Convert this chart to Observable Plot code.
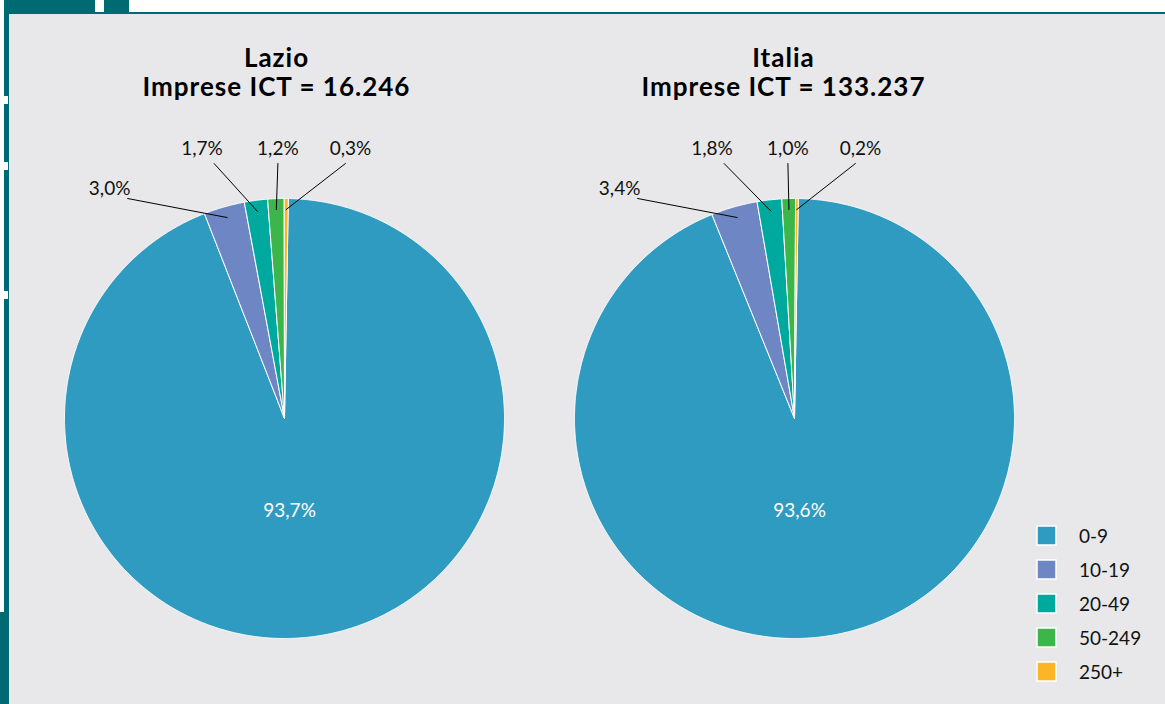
<!DOCTYPE html>
<html>
<head>
<meta charset="utf-8">
<script src="https://cdn.jsdelivr.net/npm/d3@7"></script>
<script src="https://cdn.jsdelivr.net/npm/@observablehq/plot@0.6"></script>
<style>
html, body { margin: 0; padding: 0; background: #ffffff; width: 1165px; height: 704px; overflow: hidden; }
#stage { position: relative; width: 1165px; height: 704px; font-family: Lato, "DejaVu Sans", sans-serif; }
.teal { position: absolute; background: #006A73; }
.notch { position: absolute; background: #ffffff; }
#panel { position: absolute; left: 9px; top: 14px; right: 0; bottom: 0; background: #E8E8EA; }
#chart { position: absolute; left: 0; top: 0; }
#chart svg > g[aria-label="text"]:last-of-type text { letter-spacing: 1px; }
#legend { position: absolute; left: 1037px; top: 518px; }
#legend .lg-swatches { font-family: Lato, sans-serif; font-size: 19px; color: #111; margin: 0; }
#legend .lg-swatch { height: 34px; padding-bottom: 0; }
#legend .lg-swatch > svg { margin-right: 23px; }
#legend .lg-swatch rect { stroke: #ffffff; stroke-width: 1.5; }
</style>
</head>
<body>
<div id="stage">
  <div class="teal" style="left:4px;top:0;width:91px;height:12px"></div>
  <div class="teal" style="left:104px;top:0;width:25px;height:12px"></div>
  <div class="teal" style="left:4px;top:12px;width:1161px;height:2px"></div>
  <div class="teal" style="left:4px;top:0;width:5px;height:704px"></div>
  <div class="teal" style="left:0;top:612px;width:9px;height:92px"></div>
  <div class="notch" style="left:4px;top:96px;width:4px;height:8px"></div>
  <div class="notch" style="left:4px;top:162px;width:4px;height:8px"></div>
  <div class="notch" style="left:4px;top:291px;width:4px;height:8px"></div>
  <div id="panel"></div>
  <div id="chart"></div>
  <div id="legend"></div>
</div>
<script>
// ---- data ----
const categories = ["0-9", "10-19", "20-49", "50-249", "250+"];
const colors = ["#2F9BC0", "#6E86C3", "#00A99D", "#3CB54A", "#FBB526"];
const regions = ["Lazio", "Italia"];
const totals = ["16.246", "133.237"];
const lazioValues = [93.7, 3.0, 1.7, 1.2, 0.3];
const italiaValues = [93.6, 3.4, 1.8, 1.0, 0.2];
const seriesValues = [lazioValues, italiaValues];

// ---- layout (pixels / radius units) ----
const W = 1165, H = 704;
const R = 220;                         // pie radius in px
const pieCentersPx = [[284, 418], [794, 418]];
const titleCentersPx = [276, 783];
const titleTopPx = 71.5;
const firstSliceDeg = 1;
// label positions relative to pie centre, in radius units (x right, y up)
const insideLabelPos = [0.023, -0.418];
const outerLabelPos = {"10-19": [-0.795, 1.045], "20-49": [-0.375, 1.227], "50-249": [-0.030, 1.227], "250+": [0.300, 1.227]};
const leaderStartOffset = {"10-19": [0.082, -0.045], "20-49": [0.055, -0.068], "50-249": [0.0, -0.068], "250+": [-0.023, -0.068]};
const leaderEndRadius = 0.95;

const cx0 = pieCentersPx[0][0], cy0 = pieCentersPx[0][1];
const centers = pieCentersPx.map(([x, y]) => [(x - cx0) / R, (cy0 - y) / R]);
const fmt = v => d3.format(".1f")(v).replace(".", ",") + "%";

const pie = d3.pie().sort(null).value(d => d)
  .startAngle(firstSliceDeg * Math.PI / 180)
  .endAngle(firstSliceDeg * Math.PI / 180 + 2 * Math.PI);

const slicePts = [];
const insideLabels = [];
const outerLabels = [];
const leaderPts = [];
const titles = [];

seriesValues.forEach((vals, ri) => {
  const [cx, cy] = centers[ri];
  const arcs = pie(vals);
  arcs.forEach((a, k) => {
    const cat = categories[k];
    const key = regions[ri] + "|" + cat;
    const n = Math.max(2, Math.ceil((a.endAngle - a.startAngle) / (Math.PI / 720)));
    slicePts.push({key, cat, x: cx, y: cy});
    for (let i = 0; i <= n; i++) {
      const t = a.startAngle + (a.endAngle - a.startAngle) * i / n;
      slicePts.push({key, cat, x: cx + Math.sin(t), y: cy + Math.cos(t)});
    }
    slicePts.push({key, cat, x: cx, y: cy});
    const label = fmt(vals[k]);
    if (k === 0) {
      insideLabels.push({x: cx + insideLabelPos[0], y: cy + insideLabelPos[1], label});
    } else {
      const [lx, ly] = outerLabelPos[cat];
      const [ox, oy] = leaderStartOffset[cat];
      outerLabels.push({x: cx + lx, y: cy + ly, label});
      const mid = (a.startAngle + a.endAngle) / 2;
      leaderPts.push({key, x: cx + lx + ox, y: cy + ly + oy});
      leaderPts.push({key, x: cx + leaderEndRadius * Math.sin(mid), y: cy + leaderEndRadius * Math.cos(mid)});
    }
  });
  titles.push({x: (titleCentersPx[ri] - cx0) / R, y: (cy0 - titleTopPx) / R, label: regions[ri] + "\nImprese ICT = " + totals[ri]});
});

const chart = Plot.plot({
  width: W,
  height: H,
  margin: 0,
  style: {background: "transparent", fontFamily: "Lato, sans-serif", overflow: "visible"},
  x: {type: "linear", domain: [-cx0 / R, (W - cx0) / R], axis: null},
  y: {type: "linear", domain: [-(H - cy0) / R, cy0 / R], axis: null},
  color: {type: "ordinal", domain: categories, range: colors},
  marks: [
    Plot.line(slicePts, {x: "x", y: "y", z: "key", fill: "cat", stroke: "#ffffff", strokeWidth: 1, curve: "linear", strokeLinejoin: "round"}),
    Plot.line(leaderPts, {x: "x", y: "y", z: "key", stroke: "#000000", strokeWidth: 1}),
    Plot.text(insideLabels, {x: "x", y: "y", text: "label", fill: "#ffffff", fontSize: 19}),
    Plot.text(outerLabels, {x: "x", y: "y", text: "label", fill: "#111111", fontSize: 19}),
    Plot.text(titles, {x: "x", y: "y", text: "label", fill: "#000000", fontSize: 26, fontWeight: 700, lineHeight: 1.14})
  ]
});
document.getElementById("chart").appendChild(chart);

const legend = Plot.legend({
  color: {type: "ordinal", domain: categories, range: colors},
  legend: "swatches",
  columns: 1,
  swatchSize: 19,
  className: "lg"
});
document.getElementById("legend").appendChild(legend);
</script>
</body>
</html>
